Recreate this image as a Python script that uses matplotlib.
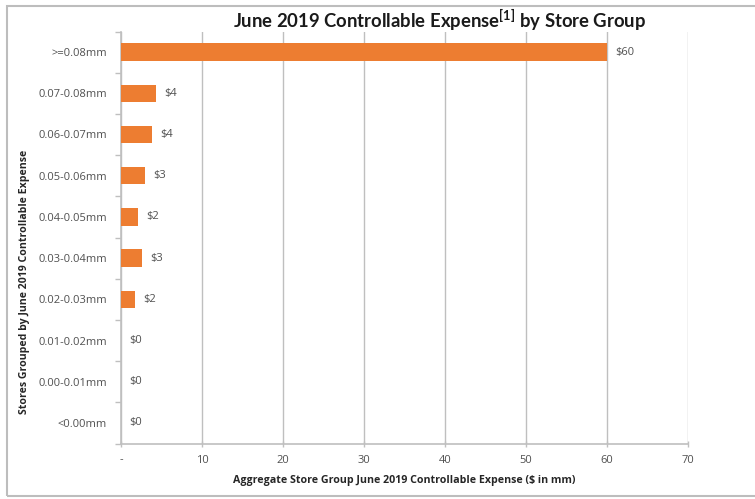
import matplotlib
matplotlib.use("Agg")
import matplotlib.pyplot as plt
from matplotlib.patches import Rectangle
from matplotlib.ticker import FixedLocator, NullFormatter

plt.rcParams['font.family'] = ['Open Sans', 'DejaVu Sans']
plt.rcParams['mathtext.fontset'] = 'custom'
plt.rcParams['mathtext.rm'] = 'Lato'
plt.rcParams['mathtext.bf'] = 'Lato:bold'

# Store groups (top to bottom) and aggregate expense in $mm
groups = [">=0.08mm", "0.07-0.08mm", "0.06-0.07mm", "0.05-0.06mm", "0.04-0.05mm",
          "0.03-0.04mm", "0.02-0.03mm", "0.01-0.02mm", "0.00-0.01mm", "<0.00mm"]
expense = [60.0, 4.3, 3.8, 3.0, 2.1, 2.55, 1.75, 0.0, 0.0, 0.0]
bar_labels = ["$60", "$4", "$4", "$3", "$2", "$3", "$2", "$0", "$0", "$0"]
x_ticks = [0, 10, 20, 30, 40, 50, 60, 70]
x_tick_labels = ["-", "10", "20", "30", "40", "50", "60", "70"]

W, H = 755, 499
fig = plt.figure(figsize=(W / 100, H / 100), dpi=100)
ax = fig.add_axes([121 / W, 1 - 443.5 / H, (688 - 121) / W, (443.5 - 31.5) / H])

orange = "#ED7D31"
grid_c = "#BFBFBF"
text_c = "#505050"
small = 8.0

ypos = list(range(len(groups)))
ax.barh(ypos, expense, height=0.42, color=orange, zorder=3)
ax.set_ylim(len(groups) - 0.5, -0.5)
ax.set_xlim(0, 70)

for y, v, lab in zip(ypos, expense, bar_labels):
    ax.annotate(lab, (v, y), xytext=(6, 0), textcoords="offset points",
                va="center", ha="left", fontsize=small, color=text_c, zorder=4)

ax.set_yticks(ypos)
ax.set_yticklabels(groups, fontsize=small, color=text_c)
ax.tick_params(axis="y", length=0, pad=10)
ax.yaxis.set_minor_locator(FixedLocator([i - 0.5 for i in range(len(groups) + 1)]))
ax.yaxis.set_minor_formatter(NullFormatter())
ax.tick_params(axis="y", which="minor", length=4, color=grid_c, width=1)

ax.set_xticks(x_ticks)
ax.set_xticklabels(x_tick_labels, fontsize=small, color=text_c)
ax.tick_params(axis="x", length=4, color=grid_c, width=1, pad=6, direction="inout")

ax.grid(axis="x", color=grid_c, linewidth=1, zorder=0)
for s in ["top", "right"]:
    ax.spines[s].set_visible(False)
for s in ["left", "bottom"]:
    ax.spines[s].set_color(grid_c)
    ax.spines[s].set_linewidth(1.2)

ax.set_xlabel("Aggregate Store Group June 2019 Controllable Expense ($ in mm)",
              fontsize=7.7, fontweight="bold", color="#262626", labelpad=7)
ax.set_ylabel("Stores Grouped by June 2019 Controllable Expense",
              fontsize=7.6, fontweight="bold", color="#262626")
ax.yaxis.set_label_coords((30 - 121) / (688 - 121), 1 - (282 - 31.5) / (443.5 - 31.5))

# title with a small raised footnote marker
title_kw = dict(ha="center", va="center", fontweight="bold", color="#1a1a1a",
                family=["Lato", "DejaVu Sans"])
fig.text(440 / W, 1 - 20 / H,
         r"June 2019 Controllable Expense$^{\mathbf{[1]}}$ by Store Group",
         fontsize=13.3, **title_kw)

# outer frame around the chart area
fig.patches.append(Rectangle((7 / W, 3 / H), 1.2, 1 - 9 / H, transform=fig.transFigure,
                             fill=False, edgecolor="#BDBDBD", linewidth=1.5))

fig.savefig("out.png", dpi=100)
